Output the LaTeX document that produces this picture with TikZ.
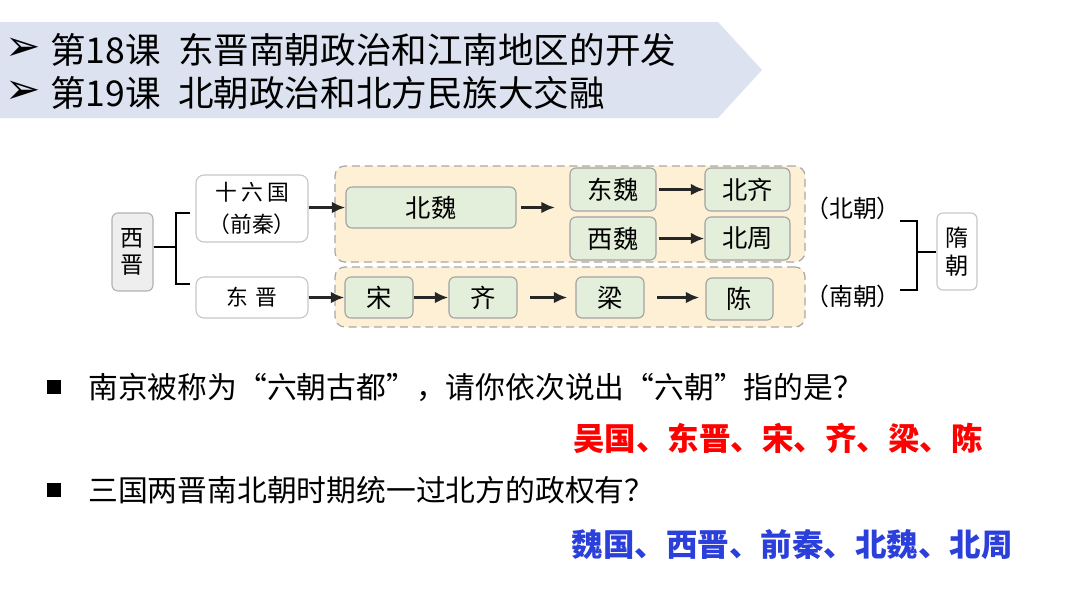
\documentclass[tikz,border=0pt]{standalone}
\usepackage{fontspec}
\setmainfont{Noto Sans CJK SC}
\newfontfamily\dingfont{DejaVu Sans}
\usetikzlibrary{arrows.meta,positioning,calc}
\definecolor{bandblue}{HTML}{DCE2F0}
\definecolor{zonefill}{HTML}{FDF0D4}
\definecolor{zonedraw}{HTML}{A8A8A8}
\definecolor{boxgreen}{HTML}{E3EFDA}
\definecolor{boxline}{HTML}{A3A3A3}
\definecolor{grayfill}{HTML}{EEEEEE}
\definecolor{ansred}{HTML}{FF0000}
\definecolor{ansblue}{HTML}{2B3FDB}
\tikzset{
  zone/.style   = {draw=zonedraw,line width=0.9pt,dash pattern=on 2mm off 1.2mm,
                   fill=zonefill,rounded corners=2.5mm,inner sep=0pt},
  gbox/.style   = {draw=boxline,line width=0.8pt,fill=boxgreen,rounded corners=1.5mm,
                   inner sep=0pt,font=\fontsize{18}{20}\selectfont},
  wbox/.style   = {draw=black!22,line width=0.8pt,fill=white,rounded corners=2mm,
                   inner sep=0pt,align=center,font=\fontsize{15.5}{22.8}\selectfont},
  vbox/.style   = {wbox,rounded corners=1.5mm,font=\fontsize{16.5}{19.5}\selectfont},
  arr/.style    = {-{Latex[length=3.4mm,width=2.9mm]},line width=2pt,draw=black!85},
  brk/.style    = {line width=1.5pt},
  lbl/.style    = {inner sep=0pt,font=\fontsize{17}{19}\selectfont},
  head/.style   = {anchor=west,inner sep=0pt,font=\fontsize{25.3}{28}\selectfont},
  tip/.style    = {inner sep=0pt,font=\dingfont\fontsize{30}{32}\selectfont},
  quest/.style  = {anchor=west,inner sep=0pt,font=\fontsize{21.2}{24}\selectfont},
  answer/.style = {anchor=east,inner sep=0pt,font=\bfseries\fontsize{22.4}{25}\selectfont},
  sq/.style     = {fill=black,minimum size=3.3mm,inner sep=0pt},
}
\begin{document}
\begin{tikzpicture}[x=0.25mm,y=-0.25mm]
  \useasboundingbox (0,0) rectangle (1080,608);
  % Header band
  \fill[bandblue] (0,22) -- (718,22) -- (762,70) -- (718,118) -- (0,118) -- cycle;
  \node[tip]  (tipa) at (23,49) {➢};
  \node[tip]  (tipb) at (23,92) {➢};
  \node[head] (lesa) at (50,50)  {第18课};
  \node[head] (lesb) at (50,93)  {第19课};
  \node[head] (tita) at (178,50) {东晋南朝政治和江南地区的开发};
  \node[head] (titb) at (178,93) {北朝政治和北方民族大交融};

  % Dashed zones
  \node[zone,minimum width=117.5mm,minimum height=24mm] (north) at (570,214) {};
  \node[zone,minimum width=117.5mm,minimum height=15mm] (south) at (570,297) {};

  % Left side
  \node[vbox,fill=grayfill,draw=black!30,minimum width=10.25mm,minimum height=19.5mm]
        (xijin) at (132.5,252) {西\\晋};
  \node[wbox,minimum width=28mm,minimum height=16.75mm] (sliu) at (252,208.5)
        {十\kern3pt 六\kern3pt 国\\（前秦）};
  \node[wbox,minimum width=28mm,minimum height=10.25mm] (djin) at (252,297.5)
        {东\kern5pt 晋};

  % Northern dynasties
  \node[gbox,minimum width=42.5mm,minimum height=10.25mm] (bwei)  at (431,207.5) {北魏};
  \node[gbox,minimum width=21.5mm,minimum height=10.75mm] (dwei) at (613,189.5) {东魏};
  \node[gbox,minimum width=21.25mm,minimum height=10.75mm] (bqi)  at (747.5,189.5) {北齐};
  \node[gbox,minimum width=21.5mm,minimum height=10.75mm] (xwei) at (613,238.5) {西魏};
  \node[gbox,minimum width=21.25mm,minimum height=10.75mm] (bzhou) at (747.5,238.5) {北周};
  \coordinate (bwend) at (555,207.5);

  % Southern dynasties
  \node[gbox,minimum width=17mm,minimum height=10.25mm]    (song)  at (379,297.5) {宋};
  \node[gbox,minimum width=17mm,minimum height=10.25mm]    (qi)    at (483,297.5) {齐};
  \node[gbox,minimum width=17mm,minimum height=10.25mm]    (liang) at (610,297.5) {梁};
  \node[gbox,minimum width=16.75mm,minimum height=10.5mm]  (chen)  at (739.5,299) {陈};

  % Right side
  \node[lbl] (bc) at (853,208) {（北朝）};
  \node[lbl] (nc) at (853,296) {（南朝）};
  \node[vbox,minimum width=10mm,minimum height=19.25mm] (sui) at (957,251.5) {隋\\朝};

  % Brackets
  \coordinate (lt) at (190,213);  \coordinate (lb) at (190,284);
  \coordinate (lm) at (176,247);
  \draw[brk] (lt) -- (176,213) -- (176,284) -- (lb);
  \draw[brk] (xijin.east |- lm) -- (lm);
  \coordinate (rt) at (900,221);  \coordinate (rb) at (900,290);
  \coordinate (rm) at (917,252);
  \draw[brk] (rt) -- (917,221) -- (917,290) -- (rb);
  \draw[brk] (rm) -- (sui.west |- rm);

  % Arrows
  \draw[arr] (sliu.east |- bwei) -- (bwei.west);
  \draw[arr,shorten <=1.2mm] (bwei.east) -- (bwend);
  \draw[arr,shorten <=0.6mm] (dwei) -- (bqi);
  \draw[arr,shorten <=0.6mm] (xwei) -- (bzhou);
  \draw[arr] (djin.east |- song) -- (song.west);
  \draw[arr] (song.east) -- (qi.west);
  \draw[arr,shorten <=3.2mm,shorten >=2mm] (qi.east) -- (qi.east -| liang.west);
  \draw[arr,shorten <=3.2mm,shorten >=1.5mm] (liang.east) -- (liang.east -| chen.west);

  % Questions
  \node[sq] (qa) at (54,387) {};
  \node[quest] (qta) at (88,387) {南京被称为“六朝古都”，请你依次说出“六朝”指的是？};
  \node[answer,text=ansred] (ansa) at (983,438) {吴国、东晋、宋、齐、梁、陈};
  \node[sq] (qb) at (54,490) {};
  \node[quest] (qtb) at (88,490) {三国两晋南北朝时期统一过北方的政权有？};
  \node[answer,text=ansblue] (ansb) at (1013,545) {魏国、西晋、前秦、北魏、北周};
\end{tikzpicture}
\end{document}
